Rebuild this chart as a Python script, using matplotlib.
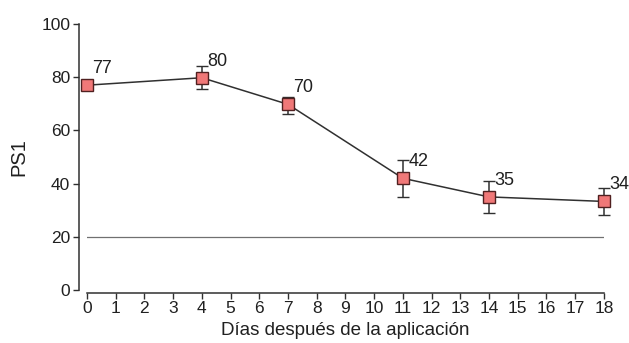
import matplotlib.pyplot as plt

plt.rcParams["font.family"] = ["Liberation Sans", "DejaVu Sans"]

days = [0, 4, 7, 11, 14, 18]
ps1 = [77, 79.8, 69.8, 42, 35, 33.3]
err_low = [1.3, 4.4, 3.6, 7.1, 6.1, 5.2]
err_high = [1.3, 4.4, 2.6, 6.7, 5.9, 4.9]
labels = ["77", "80", "70", "42", "35", "34"]
threshold = 20
xticks = list(range(0, 19))
yticks = [0, 20, 40, 60, 80, 100]


def main():
    fig = plt.figure(figsize=(6.29, 3.43), dpi=100)
    ax = fig.add_axes([0.1383, 0.1545, 0.8217, 0.7755])

    ax.plot([days[0], days[-1]], [threshold, threshold], color="#707070", lw=0.9, zorder=1)
    line, caps, bars = ax.errorbar(days, ps1, yerr=[err_low, err_high], color="#303030", lw=1.1,
                                   elinewidth=1.1, capsize=4.5, capthick=1.1, marker="s",
                                   markersize=8.5, markerfacecolor="#f07878",
                                   markeredgecolor="#502020", markeredgewidth=1.0, zorder=3)
    line.set_clip_on(False)
    for c in caps:
        c.set_clip_on(False)
    for b in bars:
        b.set_clip_on(False)

    for x, y, t in zip(days, ps1, labels):
        ax.annotate(t, (x, y), xytext=(4, 12), textcoords="offset points",
                    ha="left", va="center", fontsize=13, color="#202020")

    ax.set_xlim(0, 18)
    ax.set_ylim(0, 100)
    ax.set_xticks(xticks)
    ax.set_yticks(yticks)
    ax.tick_params(labelsize=12.5, length=4, width=1, color="#303030",
                   labelcolor="#202020", pad=2)

    for s in ["top", "right"]:
        ax.spines[s].set_visible(False)
    ax.spines["left"].set_position(("outward", 6))
    ax.spines["bottom"].set_position(("outward", 2))
    for s in ["left", "bottom"]:
        ax.spines[s].set_color("#303030")
        ax.spines[s].set_linewidth(1.1)

    ax.set_xlabel("Días después de la aplicación", fontsize=13.5, labelpad=4,
                  color="#202020")
    ax.set_ylabel("PS1", fontsize=14.5, labelpad=9, color="#202020")

    fig.savefig("out.png", dpi=100)


if __name__ == "__main__":
    main()
